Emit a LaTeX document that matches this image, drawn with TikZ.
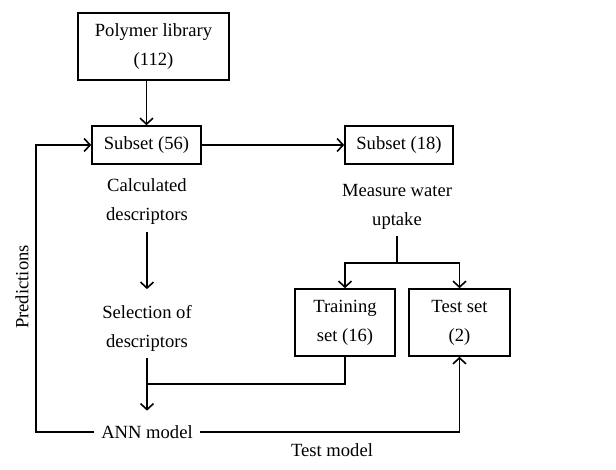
\documentclass[tikz,border=0pt]{standalone}
\usepackage{fontspec}
\setmainfont{Liberation Serif}
\usetikzlibrary{arrows.meta}

\begin{document}
\begin{tikzpicture}[x=0.5pt,y=-0.5pt,>={Straight Barb[length=3pt,width=6.5pt]},line width=0.8pt,
  box/.style={draw,rectangle,align=center,inner sep=0pt},
  lbl/.style={align=center,inner sep=3pt}]
  \fontsize{9.3}{14.5}\selectfont
  \useasboundingbox (0,0) rectangle (616,470); % 枠

  % ボックス
  \node[box,minimum width=75.5pt,minimum height=33.5pt] (lib) at (153.5,46.5) {Polymer library\\(112)};
  \node[box,minimum width=54.5pt,minimum height=19pt] (s56) at (146.5,145) {Subset (56)};
  \node[box,minimum width=54pt,minimum height=19pt] (s18) at (399,145) {Subset (18)};
  \node[box,minimum width=50pt,minimum height=33.5pt] (train) at (345,322.5) {Training\\set (16)};
  \node[box,minimum width=50.5pt,minimum height=33.5pt] (test) at (459.5,322.5) {Test set\\(2)};

  % 文字
  \node[lbl] (calc) at (147,202) {Calculated\\descriptors};
  \node[lbl] (meas) at (397,207) {Measure water\\uptake};
  \node[lbl] (sel) at (147,328) {Selection of\\descriptors};
  \node[lbl] (ann) at (147,432) {ANN model};
  \node[rotate=90] (pred) at (22,287) {Predictions};
  \node (tm) at (332,450) {Test model};

  % 分岐点
  \coordinate (j1) at (147,384);
  \coordinate (j2) at (397,263);
  \coordinate (fb) at (36,432);

  % 矢印
  \draw[->] (s56.north |- lib.south) -- (s56.north);
  \draw[->] (s56.east) -- (s18.east -| s18.west);
  \draw[->,shorten >=4.5pt] (calc.south) -- (sel.north);
  \draw[->,shorten >=4pt] (sel.south) -- (ann.north);
  \draw (train.south) |- (j1);
  \draw (meas.south) -- (j2);
  \draw[->] (j2) -| (train.north);
  \draw[->] (j2) -| (test.north);
  \draw[->] (ann.east) -| (test.south);
  \draw[->] (ann.west) -- (fb) |- (s56.west);

\end{tikzpicture}
\end{document}
